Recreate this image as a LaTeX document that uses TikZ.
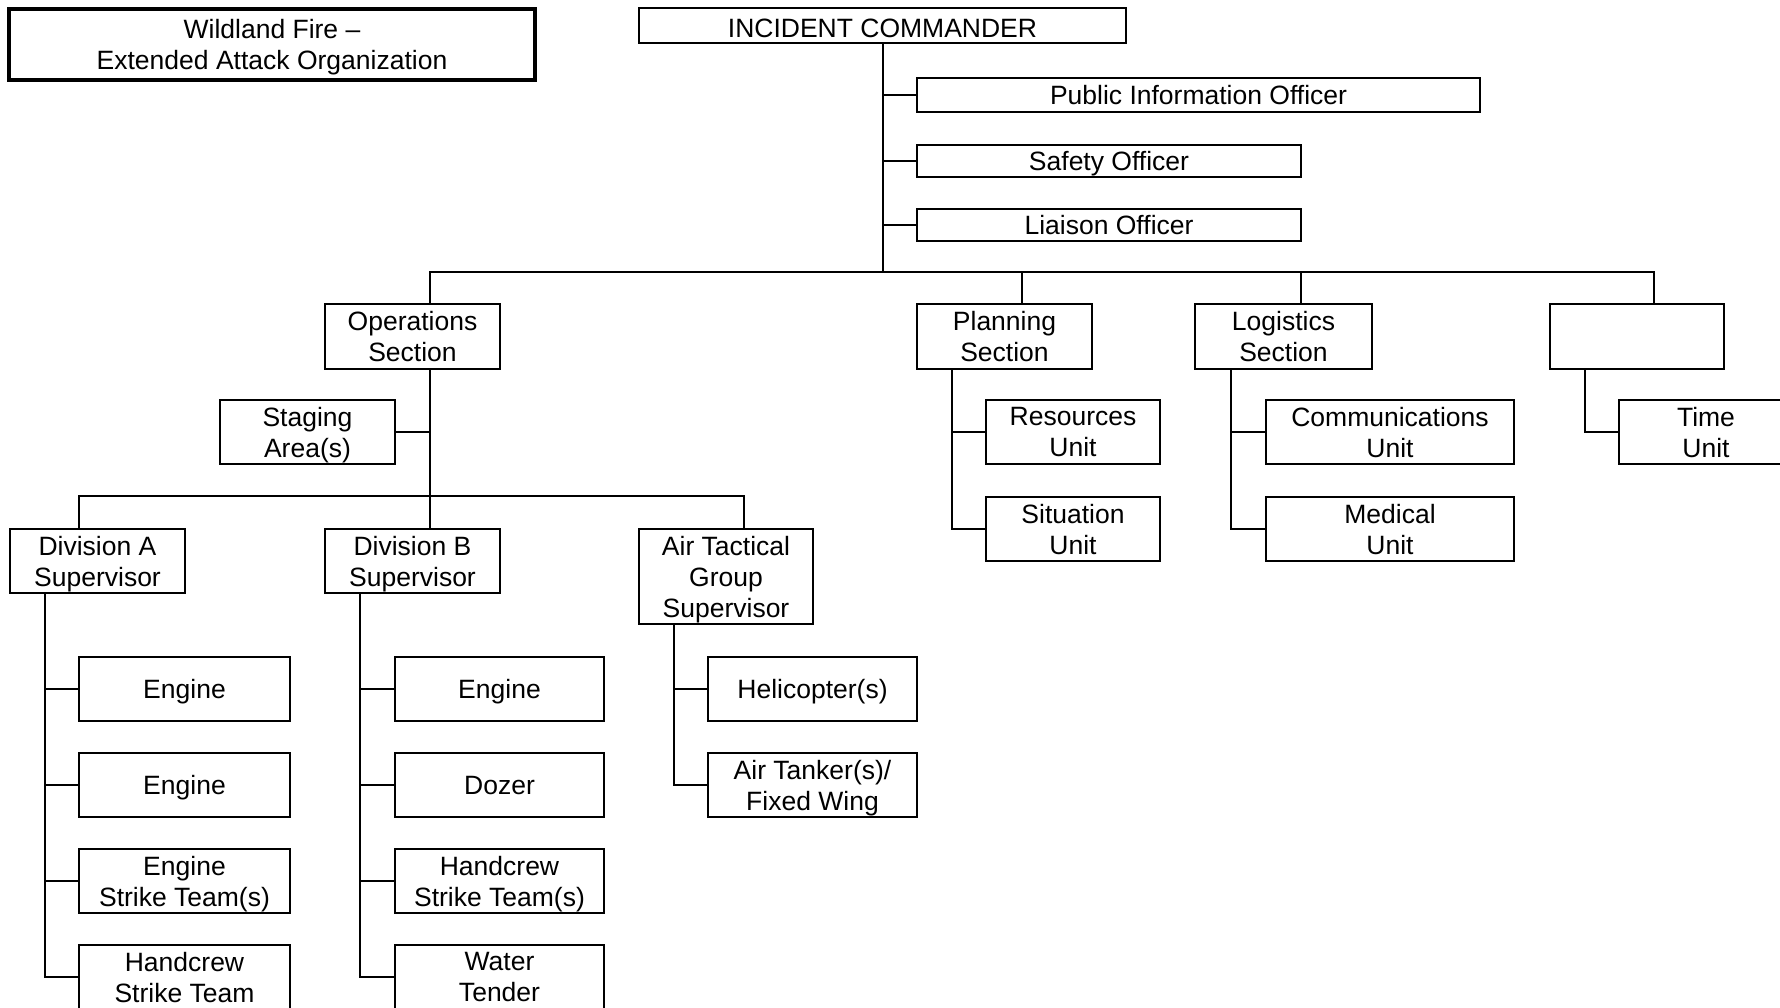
\documentclass[tikz,border=0pt]{standalone}
\usepackage{fontspec}
\setmainfont{Liberation Sans}
\begin{document}
\begin{tikzpicture}[x=1pt,y=-1pt,
  box/.style={draw, line width=2pt, inner sep=0pt, align=center, text depth=0pt,
    font=\fontsize{26.5}{31}\selectfont},
  link/.style={line width=2pt, line cap=rect}]
\useasboundingbox (0,0) rectangle (1780,1007);
\clip (0,0) rectangle (1780,1007);

% title
\node[box, line width=4.5pt, minimum width=526pt, minimum height=71pt] (title) at (272,44.5)
  {Wildland Fire --\\Extended Attack Organization};

% command staff
\node[box, text height=24pt, minimum width=487pt, minimum height=35pt] (ic) at (882.5,25.5) {INCIDENT COMMANDER};
\node[box, minimum width=563pt, minimum height=34pt] (pio) at (1198.5,95) {Public Information Officer};
\node[box, minimum width=384pt, minimum height=32pt] (safety) at (1109,161) {Safety Officer};
\node[box, minimum width=384pt, minimum height=32pt] (liaison) at (1109,225) {Liaison Officer};

% sections
\node[box, minimum width=175pt, minimum height=65pt] (ops) at (412.5,336.5) {Operations\\Section};
\node[box, minimum width=175pt, minimum height=65pt] (plan) at (1004.5,336.5) {Planning\\Section};
\node[box, minimum width=177pt, minimum height=65pt] (log) at (1283.5,336.5) {Logistics\\Section};
\node[box, minimum width=174pt, minimum height=65pt] (fin) at (1637,336.5) {};

% operations
\node[box, minimum width=175pt, minimum height=64pt] (staging) at (307.5,432) {Staging\\Area(s)};
\node[box, minimum width=175pt, minimum height=64pt] (diva) at (97.5,561) {Division A\\Supervisor};
\node[box, minimum width=175pt, minimum height=64pt] (divb) at (412.5,561) {Division B\\Supervisor};
\node[box, minimum width=174pt, minimum height=95pt] (atgs) at (726,576.5) {Air Tactical\\Group\\Supervisor};

% division A resources
\node[box, minimum width=211pt, minimum height=64pt] (a1) at (184.5,689) {Engine};
\node[box, minimum width=211pt, minimum height=64pt] (a2) at (184.5,785) {Engine};
\node[box, minimum width=211pt, minimum height=64pt] (a3) at (184.5,881) {Engine\\Strike Team(s)};
\node[box, minimum width=211pt, minimum height=64pt] (a4) at (184.5,977) {Handcrew\\Strike Team};

% division B resources
\node[box, minimum width=209pt, minimum height=64pt] (b1) at (499.5,689) {Engine};
\node[box, minimum width=209pt, minimum height=64pt] (b2) at (499.5,785) {Dozer};
\node[box, minimum width=209pt, minimum height=64pt] (b3) at (499.5,881) {Handcrew\\Strike Team(s)};
\node[box, minimum width=209pt, minimum height=64pt] (b4) at (499.5,977) {Water\\Tender};

% air resources
\node[box, minimum width=209pt, minimum height=64pt] (h1) at (812.5,689) {Helicopter(s)};
\node[box, minimum width=209pt, minimum height=64pt] (h2) at (812.5,785) {Air Tanker(s)/\\Fixed Wing};

% planning units
\node[box, minimum width=174pt, minimum height=64pt] (res) at (1073,432) {Resources\\Unit};
\node[box, minimum width=174pt, minimum height=64pt] (sit) at (1073,529) {Situation\\Unit};

% logistics units
\node[box, minimum width=248pt, minimum height=64pt] (com) at (1390,432) {Communications\\Unit};
\node[box, minimum width=248pt, minimum height=64pt] (med) at (1390,529) {Medical\\Unit};

% finance unit
\node[box, minimum width=174pt, minimum height=64pt] (time) at (1706,432) {Time\\Unit};

% spines and bars
\coordinate (icx) at (883,272);
\coordinate (barL) at (430,272);
\coordinate (planx) at (1022,272);
\coordinate (logx) at (1301,272);
\coordinate (barR) at (1654,272);
\coordinate (opsx) at (430,496);
\coordinate (bar2L) at (79,496);
\coordinate (bar2R) at (744,496);
\coordinate (aspine) at (45,977);
\coordinate (bspine) at (360,977);
\coordinate (hspine) at (674,785);
\coordinate (pspine) at (952,529);
\coordinate (lspine) at (1231,529);
\coordinate (fspine) at (1585,432);

% command links
\draw[link] (ic.south -| icx) -- (icx);
\draw[link, line width=1.4pt] (pio.west -| icx) -- (pio.west);
\draw[link, line width=1.4pt] (safety.west -| icx) -- (safety.west);
\draw[link, line width=1.4pt] (liaison.west -| icx) -- (liaison.west);
\draw[link] (barL) -- (barR);
\draw[link] (barL) -- (ops.north -| barL);
\draw[link] (planx) -- (plan.north -| planx);
\draw[link] (logx) -- (log.north -| logx);
\draw[link] (barR) -- (fin.north -| barR);

% operations links
\draw[link] (ops.south -| opsx) -- (opsx);
\draw[link] (staging.east) -- (staging.east -| opsx);
\draw[link] (bar2L) -- (bar2R);
\draw[link] (bar2L) -- (diva.north -| bar2L);
\draw[link] (opsx) -- (divb.north -| opsx);
\draw[link] (bar2R) -- (atgs.north -| bar2R);

\draw[link] (diva.south -| aspine) -- (aspine);
\foreach \n in {a1,a2,a3,a4} \draw[link] (\n.west -| aspine) -- (\n.west);
\draw[link] (divb.south -| bspine) -- (bspine);
\foreach \n in {b1,b2,b3,b4} \draw[link] (\n.west -| bspine) -- (\n.west);
\draw[link] (atgs.south -| hspine) -- (hspine);
\foreach \n in {h1,h2} \draw[link] (\n.west -| hspine) -- (\n.west);

% planning, logistics and finance links
\draw[link] (plan.south -| pspine) -- (pspine);
\foreach \n in {res,sit} \draw[link] (\n.west -| pspine) -- (\n.west);
\draw[link] (log.south -| lspine) -- (lspine);
\foreach \n in {com,med} \draw[link] (\n.west -| lspine) -- (\n.west);
\draw[link] (fin.south -| fspine) -- (fspine) -- (time.west);
\end{tikzpicture}
\end{document}
